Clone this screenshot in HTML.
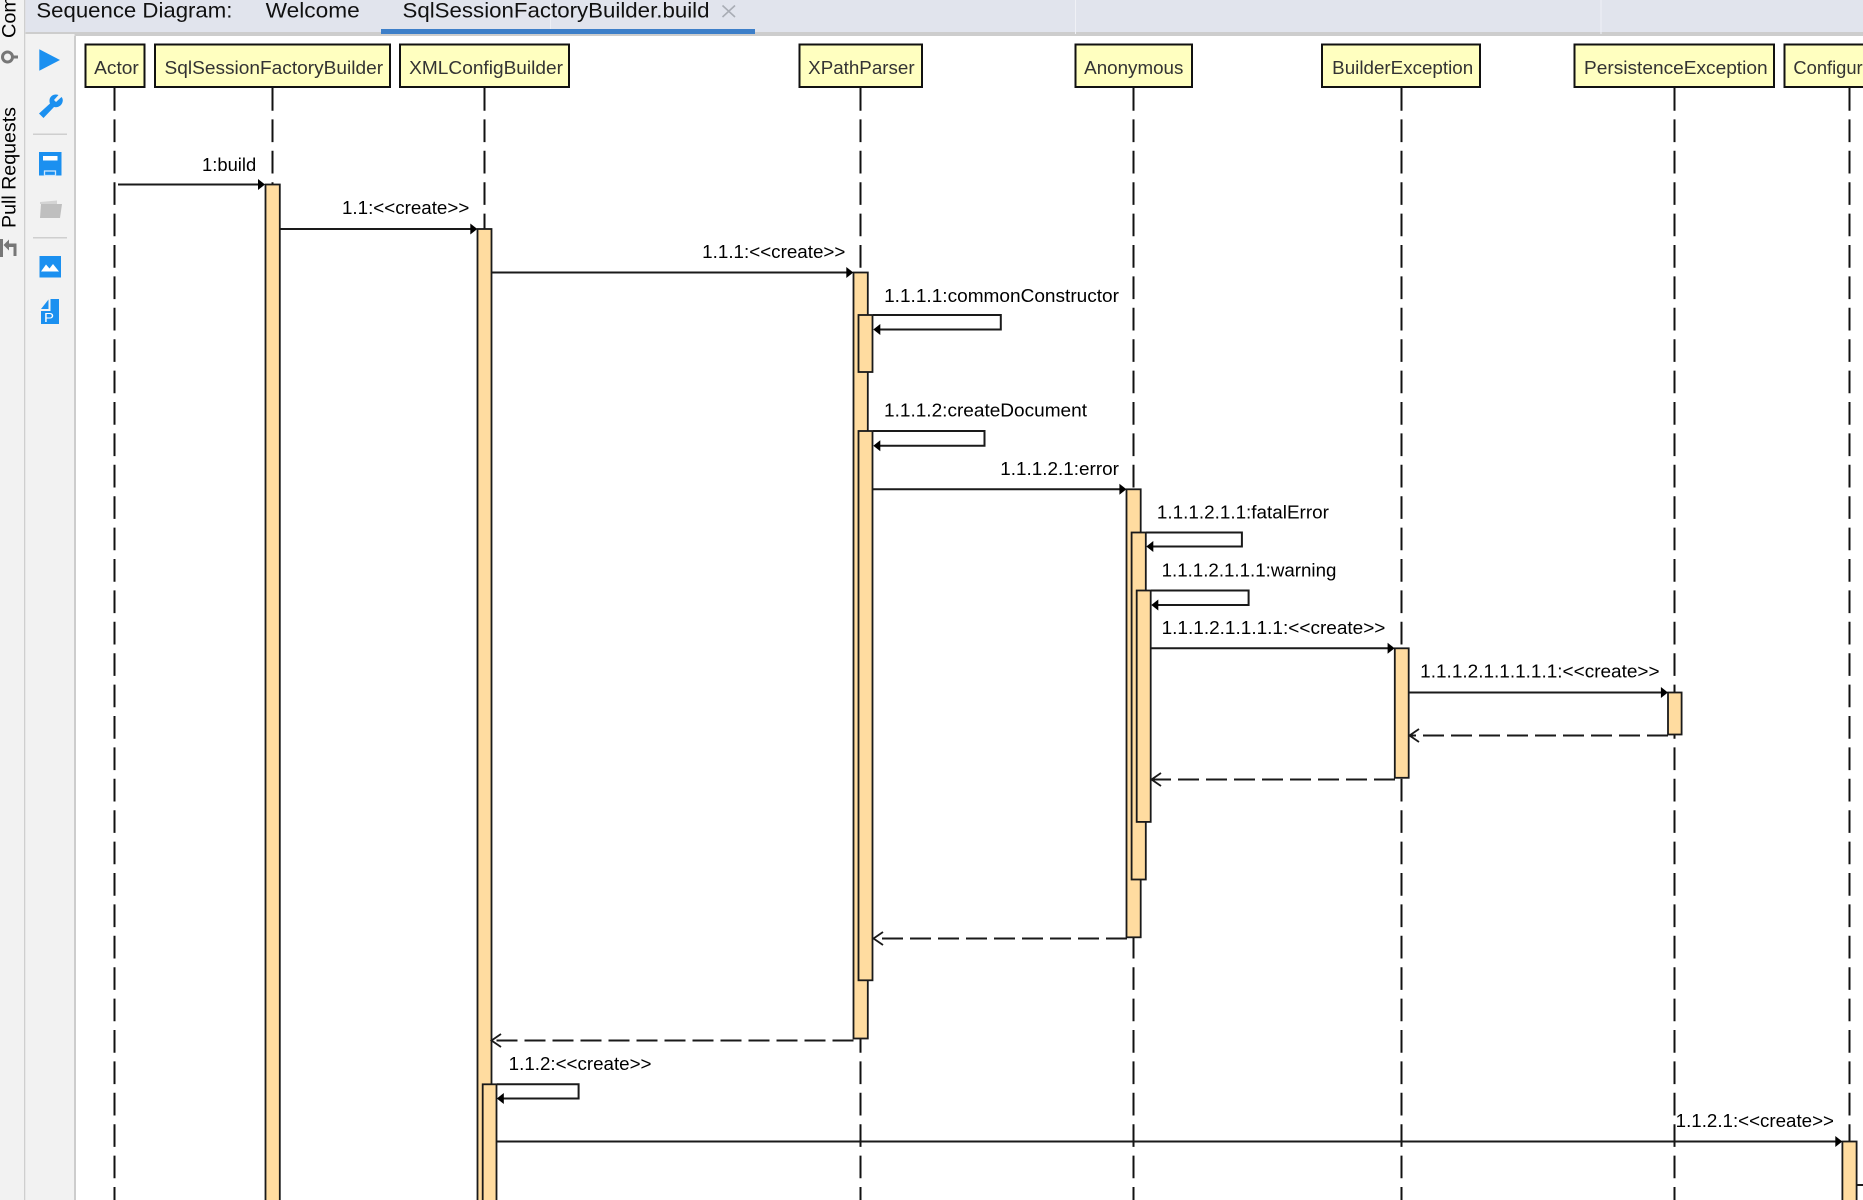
<!DOCTYPE html>
<html><head><meta charset="utf-8"><title>Sequence Diagram</title>
<style>
html,body{margin:0;padding:0;background:#fff;width:1863px;height:1200px;overflow:hidden}
svg{display:block}
text{font-family:"Liberation Sans",Arial,sans-serif}
.n{font-size:18.5px;fill:#333}
.m{font-size:18.5px;fill:#000}
.t{font-size:21.5px;fill:#111}
.node{fill:#ffffc0;stroke:#111;stroke-width:2}
.a{fill:#ffdca0;stroke:#1a1a1a;stroke-width:1.8}
.life{stroke:#111;stroke-width:2;stroke-dasharray:22.7 8.7;fill:none}
.msg{stroke:#1a1a1a;stroke-width:2;fill:none}
.ret{stroke:#1a1a1a;stroke-width:2;stroke-dasharray:21 7;fill:none}
.open{stroke:#1a1a1a;stroke-width:1.8;fill:none}
</style></head><body>
<svg xmlns="http://www.w3.org/2000/svg" width="1863" height="1200" viewBox="0 0 1863 1200">
<rect width="1863" height="1200" fill="#fff"/>
<!-- chrome -->
<rect x="0" y="0" width="75" height="1200" fill="#f2f2f2"/>
<rect x="24" y="0" width="1.3" height="1200" fill="#cfcfcf"/>
<rect x="74" y="34" width="2" height="1166" fill="#cdcdcd"/>
<rect x="25.5" y="0" width="1838" height="32" fill="#e1e4ed"/>
<rect x="25.5" y="32" width="1838" height="4" fill="#cdcdcd"/>
<rect x="25.5" y="34" width="49" height="2" fill="#f2f2f2"/>
<rect x="550" y="0" width="1" height="33" fill="#edeff5"/>
<rect x="1075" y="0" width="1" height="34" fill="#f0f1f6"/>
<rect x="1600.5" y="0" width="1" height="34" fill="#f0f1f6"/>
<rect x="381" y="29" width="374" height="5" fill="#3d7fc9"/>
<text class="t" x="36.4" y="17.3" textLength="196" lengthAdjust="spacingAndGlyphs">Sequence Diagram:</text>
<text class="t" x="265.7" y="17.3" textLength="94" lengthAdjust="spacingAndGlyphs">Welcome</text>
<text class="t" x="402.5" y="17.3" textLength="307" lengthAdjust="spacingAndGlyphs">SqlSessionFactoryBuilder.build</text>
<path d="M722.5 5.5 L735 17 M735 5.5 L722.5 17" stroke="#a9adb5" stroke-width="1.6" fill="none"/>
<!-- left strip -->
<text x="15.5" y="38" transform="rotate(-90 15.5 38)" font-size="19.5" fill="#000" textLength="42" lengthAdjust="spacingAndGlyphs">Com</text>
<text x="15.5" y="228" transform="rotate(-90 15.5 228)" font-size="19.5" fill="#000" textLength="121" lengthAdjust="spacingAndGlyphs">Pull Requests</text>
<circle cx="7.5" cy="57" r="5" fill="none" stroke="#777" stroke-width="3"/>
<rect x="11" y="55.5" width="7" height="3" fill="#777"/>
<rect x="0" y="239" width="3" height="18" fill="#777"/>
<path d="M3.5 245 L9 239.5 L9 243.5 L16.5 243.5 L16.5 256 L13.5 256 L13.5 247 L9 247 L9 250.5 Z" fill="#777"/>
<!-- tool icons -->
<path d="M39.3 49.3 L60 60 L39.3 70.7 Z" fill="#1b90f0"/>
<path d="M61.5 97 L56 102 L54 100 L58.5 95 C54 93.5 50 96 49.5 100 C49.4 101.5 49.6 102.5 50 103.5 L39 113.5 L43.5 118 L54 107 C58.5 108 62.5 105 62.8 100.5 C62.8 99 62.4 98 61.5 97 Z" fill="#1b90f0"/>
<rect x="33" y="133.5" width="34" height="1.5" fill="#cfcfcf"/>
<rect x="39" y="152" width="22.5" height="23.5" fill="#1b90f0"/>
<rect x="43" y="156" width="14.5" height="4.5" fill="#fff"/>
<rect x="44.5" y="171" width="11" height="4.5" fill="none" stroke="#cfe6fb" stroke-width="1.3"/>
<path d="M40 202 L57 200.5 L57 204 L40 204 Z" fill="#d4d4d4"/>
<path d="M41 204 L62 204 L60 218 L40 218 Z" fill="#bfbfbf"/>
<rect x="33" y="237" width="34" height="1.5" fill="#cfcfcf"/>
<rect x="39.5" y="256" width="21.5" height="21.5" fill="#1b90f0"/>
<path d="M41 271.5 L46 264.5 L49.5 268.5 L53 264 L59 271.5 Z" fill="#fff"/>
<path d="M41 309 L48.5 299.5 L48.5 309 Z" fill="#1b90f0"/>
<path d="M50.5 299 L59 299 L59 324 L41 324 L41 311 L50.5 311 Z" fill="#1b90f0"/>
<text x="44" y="322" font-size="13" fill="#fff" textLength="10" lengthAdjust="spacingAndGlyphs">P</text>

<!-- lifelines -->
<path class="life" d="M114.5 88 V1200"/>
<path class="life" d="M272.5 88 V1200"/>
<path class="life" d="M484.5 88 V1200"/>
<path class="life" d="M860.5 88 V1200"/>
<path class="life" d="M1133.5 88 V1200"/>
<path class="life" d="M1401.5 88 V1200"/>
<path class="life" d="M1674.5 88 V1200"/>
<path class="life" d="M1849.5 88 V1200"/>

<!-- nodes -->
<rect class="node" x="85.5" y="44.5" width="59" height="42.5"/>
<rect class="node" x="155" y="44.5" width="235" height="42.5"/>
<rect class="node" x="400" y="44.5" width="169" height="42.5"/>
<rect class="node" x="799.5" y="44.5" width="122.5" height="42.5"/>
<rect class="node" x="1075.5" y="44.5" width="116.5" height="42.5"/>
<rect class="node" x="1322" y="44.5" width="158" height="42.5"/>
<rect class="node" x="1574.5" y="44.5" width="199.5" height="42.5"/>
<rect class="node" x="1784.5" y="44.5" width="100" height="42.5"/>
<text class="n" x="94.1" y="74" textLength="44.7" lengthAdjust="spacingAndGlyphs">Actor</text>
<text class="n" x="164.5" y="74" textLength="218.6" lengthAdjust="spacingAndGlyphs">SqlSessionFactoryBuilder</text>
<text class="n" x="409.2" y="74" textLength="153.8" lengthAdjust="spacingAndGlyphs">XMLConfigBuilder</text>
<text class="n" x="808.2" y="74" textLength="106.4" lengthAdjust="spacingAndGlyphs">XPathParser</text>
<text class="n" x="1084.2" y="74" textLength="99.2" lengthAdjust="spacingAndGlyphs">Anonymous</text>
<text class="n" x="1332.2" y="74" textLength="141" lengthAdjust="spacingAndGlyphs">BuilderException</text>
<text class="n" x="1584" y="74" textLength="183.6" lengthAdjust="spacingAndGlyphs">PersistenceException</text>
<text class="n" x="1793.4" y="74" textLength="109" lengthAdjust="spacingAndGlyphs">Configuration</text>

<!-- activations -->
<rect class="a" x="265.5" y="184.5" width="14.3" height="1030"/>
<rect class="a" x="477.5" y="229" width="14" height="990"/>
<rect class="a" x="853.5" y="272.5" width="14.3" height="766"/>
<rect class="a" x="858.5" y="315" width="14" height="57"/>
<rect class="a" x="858.5" y="431" width="14" height="549.3"/>
<rect class="a" x="1126.5" y="489.3" width="14.2" height="448"/>
<rect class="a" x="1131.6" y="532.5" width="14.2" height="347"/>
<rect class="a" x="1136.7" y="590.5" width="14" height="231.4"/>
<rect class="a" x="1394.8" y="648.3" width="13.9" height="129.5"/>
<rect class="a" x="1668" y="692.5" width="13.6" height="42"/>
<rect class="a" x="482.7" y="1084.3" width="13.8" height="140"/>
<rect class="a" x="1842.4" y="1141.5" width="14.2" height="80"/>

<!-- messages -->
<path class="msg" d="M118 184.5 H260"/><path d="M265 184.5 L258 179 V190 Z" fill="#000"/>
<path class="msg" d="M280 229 H472"/><path d="M477.3 229 L470.3 223.5 V234.5 Z" fill="#000"/>
<path class="msg" d="M492 272.5 H848"/><path d="M853.3 272.5 L846.3 267 V278 Z" fill="#000"/>
<path class="msg" d="M873 315 H1000.8 V329.5 H878"/><path d="M873.3 329.5 L880.3 324 V335 Z" fill="#000"/>
<path class="msg" d="M873 431 H984.5 V445.7 H878"/><path d="M873.3 445.7 L880.3 440.2 V451.2 Z" fill="#000"/>
<path class="msg" d="M873 489.3 H1121"/><path d="M1126.4 489.3 L1119.4 483.8 V494.8 Z" fill="#000"/>
<path class="msg" d="M1146 532.5 H1241.9 V546.5 H1152"/><path d="M1146.3 546.5 L1153.3 541 V552 Z" fill="#000"/>
<path class="msg" d="M1151 590.5 H1248.6 V605 H1157"/><path d="M1151.3 605 L1158.3 599.5 V610.5 Z" fill="#000"/>
<path class="msg" d="M1151 648.3 H1389"/><path d="M1394.6 648.3 L1387.6 642.8 V653.8 Z" fill="#000"/>
<path class="msg" d="M1409 692.5 H1662"/><path d="M1667.9 692.5 L1660.9 687 V698 Z" fill="#000"/>
<path class="msg" d="M497 1084.3 H578.6 V1098.5 H502"/><path d="M496.8 1098.5 L503.8 1093 V1104 Z" fill="#000"/>
<path class="msg" d="M497 1141.5 H1836"/><path d="M1842.3 1141.5 L1835.3 1136 V1147 Z" fill="#000"/>
<path class="msg" d="M1857 1185 H1863"/>

<!-- returns -->
<path class="ret" d="M1668 735.5 H1410"/><path class="open" d="M1419 729 L1409.5 735.5 L1419 742"/>
<path class="ret" d="M1395 779.5 H1152"/><path class="open" d="M1161 773 L1151.5 779.5 L1161 786"/>
<path class="ret" d="M1127 938.5 H874"/><path class="open" d="M883 932 L873.5 938.5 L883 945"/>
<path class="ret" d="M853.5 1040.5 H492"/><path class="open" d="M501 1034 L491.5 1040.5 L501 1047"/>

<!-- labels -->
<text class="m" x="202" y="171" textLength="54.2" lengthAdjust="spacingAndGlyphs">1:build</text>
<text class="m" x="342" y="214" textLength="127.3" lengthAdjust="spacingAndGlyphs">1.1:&lt;&lt;create&gt;&gt;</text>
<text class="m" x="702.2" y="258" textLength="143.2" lengthAdjust="spacingAndGlyphs">1.1.1:&lt;&lt;create&gt;&gt;</text>
<text class="m" x="884.1" y="302" textLength="234.9" lengthAdjust="spacingAndGlyphs">1.1.1.1:commonConstructor</text>
<text class="m" x="884" y="416.7" textLength="203" lengthAdjust="spacingAndGlyphs">1.1.1.2:createDocument</text>
<text class="m" x="1000.3" y="475" textLength="118.6" lengthAdjust="spacingAndGlyphs">1.1.1.2.1:error</text>
<text class="m" x="1156.9" y="518.7" textLength="172" lengthAdjust="spacingAndGlyphs">1.1.1.2.1.1:fatalError</text>
<text class="m" x="1161.6" y="576.7" textLength="174.8" lengthAdjust="spacingAndGlyphs">1.1.1.2.1.1.1:warning</text>
<text class="m" x="1161.6" y="634" textLength="223.8" lengthAdjust="spacingAndGlyphs">1.1.1.2.1.1.1.1:&lt;&lt;create&gt;&gt;</text>
<text class="m" x="1420.2" y="677.7" textLength="239.4" lengthAdjust="spacingAndGlyphs">1.1.1.2.1.1.1.1.1:&lt;&lt;create&gt;&gt;</text>
<text class="m" x="508.7" y="1070" textLength="142.8" lengthAdjust="spacingAndGlyphs">1.1.2:&lt;&lt;create&gt;&gt;</text>
<text class="m" x="1675.7" y="1127" textLength="158.3" lengthAdjust="spacingAndGlyphs">1.1.2.1:&lt;&lt;create&gt;&gt;</text>
</svg>
</body></html>
